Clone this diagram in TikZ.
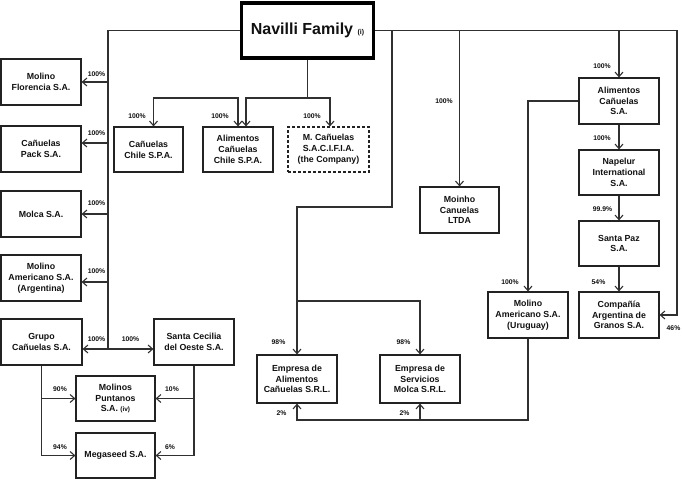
\documentclass[tikz,border=0pt]{standalone}
\usepackage{fontspec}
\setmainfont{Liberation Sans}
\usetikzlibrary{arrows.meta}
\definecolor{boxc}{HTML}{222222}
\definecolor{linec}{HTML}{303030}
\definecolor{txtc}{HTML}{111111}
\begin{document}
\begin{tikzpicture}[x=1pt,y=-1pt,
  ent/.style={draw=boxc, line width=1.2pt, minimum width=80pt, minimum height=46pt, inner sep=1pt, align=center, font=\bfseries\fontsize{8.8}{10.8}\selectfont, text=txtc},
  conn/.style={draw=linec, line width=1.1pt},
  arr/.style={conn, -{Straight Barb[length=4.5pt,width=8pt]}},
  arrb/.style={conn, {Straight Barb[length=4.5pt,width=8pt]}-{Straight Barb[length=4.5pt,width=8pt]}},
  pct/.style={font=\bfseries\fontsize{6.8}{7}\selectfont, text=txtc, inner sep=0pt}
]
\useasboundingbox[fill=white] (0,0) rectangle (682,479);

% top node
\node[draw=black, line width=3.5pt, minimum width=132pt, minimum height=55pt, inner sep=0pt, text=txtc, font=\bfseries] (nav) at (307.5,30.5)
  {\fontsize{16}{18}\selectfont Navilli Family {\fontsize{7}{8}\selectfont (i)}};

% left column
\node[ent] (flo)   at (41,82)  {Molino\\Florencia S.A.};
\node[ent] (pack)  at (41,149) {Cañuelas\\Pack S.A.};
\node[ent] (molca) at (41,214) {Molca S.A.};
\node[ent] (mam)   at (41,278) {Molino\\Americano S.A.\\(Argentina)};
\node[ent, minimum width=81pt] (grupo) at (41.5,342) {Grupo\\Cañuelas S.A.};
\node[ent] (scec)  at (194,342) {Santa Cecilia\\del Oeste S.A.};
\node[ent, minimum width=79pt, minimum height=45pt] (punt) at (115.5,398.5) {Molinos\\Puntanos\\S.A. {\fontsize{6.5}{7}\selectfont (iv)}};
\node[ent, minimum width=79pt, minimum height=45pt] (mega) at (115.5,455.5) {Megaseed S.A.};

% top middle
\node[ent, minimum width=69pt, minimum height=45pt] (cch) at (148.5,149.5) {Cañuelas\\Chile S.P.A.};
\node[ent, minimum width=70pt, minimum height=45pt] (ach) at (238,149.5) {Alimentos\\Cañuelas\\Chile S.P.A.};
\node[ent, minimum width=81pt, minimum height=45pt, dash pattern=on 3pt off 2pt] (comp) at (328.5,149.5) {M. Cañuelas\\S.A.C.I.F.I.A.\\(the Company)};

% middle
\node[ent, minimum width=79pt] (moinho) at (459.5,210) {Moinho\\Canuelas\\LTDA};
\node[ent, minimum height=48pt] (ealim) at (297,379) {Empresa de\\Alimentos\\Cañuelas S.R.L.};
\node[ent, minimum height=48pt] (eserv) at (420,379) {Empresa de\\Servicios\\Molca S.R.L.};
\node[ent] (muru) at (528,315) {Molino\\Americano S.A.\\(Uruguay)};

% right column
\node[ent] (alic) at (619,101)   {Alimentos\\Cañuelas\\S.A.};
\node[ent, minimum height=45pt] (nap)  at (619,172.5) {Napelur\\International\\S.A.};
\node[ent, minimum height=45pt] (spaz) at (619,243.5) {Santa Paz\\S.A.};
\node[ent] (cag)  at (619,315)   {Compañía\\Argentina de\\Granos S.A.};

% coordinates
\coordinate (L)  at (108,30.5);
\coordinate (Lb) at (108,349);
\coordinate (tb) at (307.5,98);
\coordinate (bk) at (238,98);
\coordinate (R)  at (677,30.5);
\coordinate (b1) at (392,30.5);
\coordinate (e1) at (297,207);
\coordinate (e2) at (297,301);
\coordinate (bl) at (297,420);

% left trunk
\draw[conn] (nav.west) -- (L) -- (Lb);
\draw[arr] (flo.east -| L) -- (flo.east);
\draw[arr] ([yshift=6pt]pack.east -| L) -- ([yshift=6pt]pack.east);
\draw[arr] (molca.east -| L) -- (molca.east);
\draw[arr] ([yshift=-4pt]mam.east -| L) -- ([yshift=-4pt]mam.east);
\draw[arr] (Lb) -- (Lb -| grupo.east);
\draw[arr] (Lb) -- (Lb -| scec.west);

% lower left
\draw[arr] (grupo.south) |- (punt.west);
\draw[arr] (grupo.south) |- (mega.west);
\draw[arr] (scec.south) |- (punt.east);
\draw[arr] (scec.south) |- (mega.east);

% top middle
\draw[conn] (nav.south) -- (tb);
\draw[arr] (tb) -| ([xshift=8pt]ach.north);
\draw[arr] (tb) -| ([xshift=1.5pt]comp.north);
\draw[arrb] ([xshift=5pt]cch.north) |- (bk) -- (ach.north);

% right trunk
\draw[arr] (nav.east) -- (R) |- (cag.east);
\draw[arr] (b1) -- (b1 |- e1) -- (e1) -- (ealim.north);
\draw[arr] (e2) -| (eserv.north);
\draw[arr] (moinho.north |- R) -- (moinho.north);
\draw[arr] (alic.north |- R) -- (alic.north);
\draw[arr] (alic.south) -- (nap.north);
\draw[arr] (nap.south) -- (spaz.north);
\draw[arr] (spaz.south) -- (cag.north);
\draw[arr] (alic.west) -| (muru.north);
\draw[arr] (muru.south) |- (bl) -- (ealim.south);
\draw[arr] (eserv.south |- bl) -- (eserv.south);

% percentages
\node[pct] (p1) at (96.5,74)    {100\%};
\node[pct] (p2) at (96.5,132.7) {100\%};
\node[pct] (p3) at (96.5,202.7) {100\%};
\node[pct] (p4) at (96.5,270.7) {100\%};
\node[pct] (p5) at (96.5,339.3) {100\%};
\node[pct] (p6) at (130.5,339.3) {100\%};
\node[pct] (p7) at (60,389.3)   {90\%};
\node[pct] (p8) at (172,389.3)  {10\%};
\node[pct] (p9) at (60,446.7)   {94\%};
\node[pct] (p10) at (170,446.7) {6\%};
\node[pct] (p11) at (137,116)   {100\%};
\node[pct] (p12) at (220,116)   {100\%};
\node[pct] (p13) at (312,116)   {100\%};
\node[pct] (p14) at (444,101)   {100\%};
\node[pct] (p15) at (602,65.7)  {100\%};
\node[pct] (p16) at (602,137.7) {100\%};
\node[pct] (p17) at (602.5,209) {99.9\%};
\node[pct] (p18) at (598.5,281.7) {54\%};
\node[pct] (p19) at (510,281.7) {100\%};
\node[pct] (p20) at (673.5,327.7) {46\%};
\node[pct] (p21) at (278.5,342) {98\%};
\node[pct] (p22) at (403.5,342) {98\%};
\node[pct] (p23) at (281.5,412.7) {2\%};
\node[pct] (p24) at (404.5,412.7) {2\%};
\end{tikzpicture}
\end{document}
